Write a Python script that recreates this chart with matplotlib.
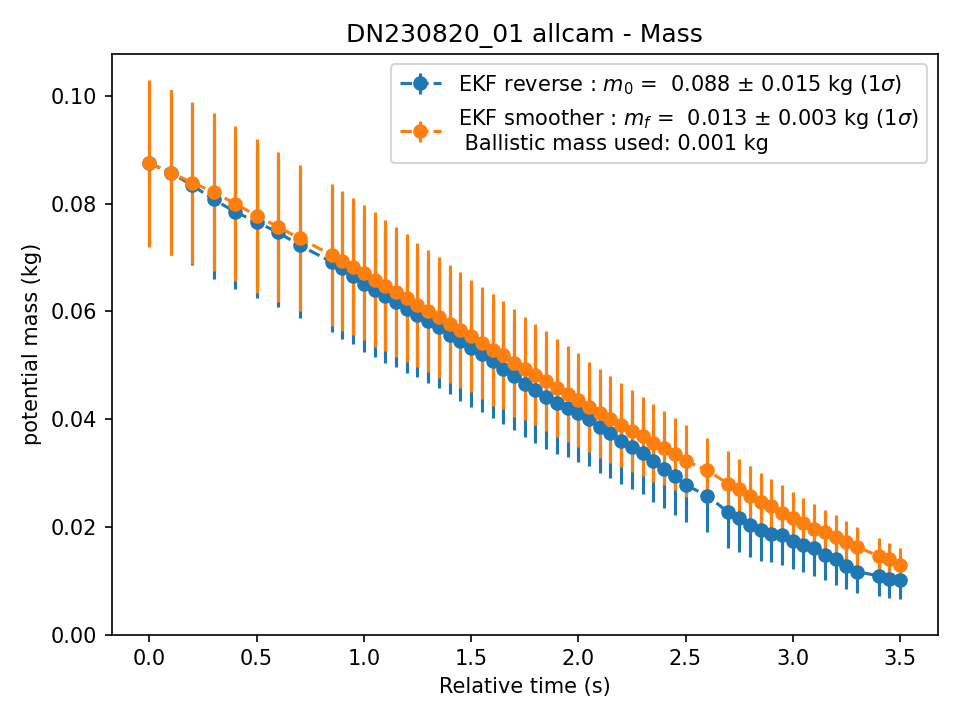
import numpy as np
import matplotlib
matplotlib.use("Agg")
import matplotlib.pyplot as plt

# relative time of each state (s)
t = [0.0, 0.1, 0.2, 0.3, 0.4, 0.5, 0.6, 0.7,
     0.85, 0.9, 0.95, 1.0, 1.05, 1.1, 1.15, 1.2, 1.25, 1.3, 1.35, 1.4,
     1.45, 1.5, 1.55, 1.6, 1.65, 1.7, 1.75, 1.8, 1.85, 1.9, 1.95, 2.0,
     2.05, 2.1, 2.15, 2.2, 2.25, 2.3, 2.35, 2.4, 2.45, 2.5,
     2.6, 2.7, 2.75, 2.8, 2.85, 2.9, 2.95, 3.0, 3.05, 3.1, 3.15, 3.2,
     3.25, 3.3, 3.4, 3.45, 3.5]

# EKF reverse mass and 1 sigma
m_rev = [0.0875, 0.0858, 0.0834, 0.0808, 0.0785, 0.0766, 0.0747, 0.0723,
         0.0692, 0.0680, 0.0665, 0.0651, 0.0639, 0.0628, 0.0617, 0.0604,
         0.0594, 0.0583, 0.0572, 0.0557, 0.0545, 0.0532, 0.0521, 0.0508,
         0.0494, 0.0481, 0.0466, 0.0454, 0.0442, 0.0430, 0.0421, 0.0411,
         0.0400, 0.0386, 0.0375, 0.0360, 0.0349, 0.0337, 0.0322, 0.0307,
         0.0294, 0.0278, 0.0258, 0.0227, 0.0216, 0.0204, 0.0194, 0.0186,
         0.0185, 0.0174, 0.0166, 0.0160, 0.0147, 0.0141, 0.0127, 0.0117,
         0.0109, 0.0104, 0.0101]
s_rev = [0.0150, 0.0153, 0.0148, 0.0147, 0.0143, 0.0141, 0.0139, 0.0136,
         0.0131, 0.0132, 0.0126, 0.0126, 0.0123, 0.0124, 0.0120, 0.0118,
         0.0116, 0.0116, 0.0114, 0.0110, 0.0111, 0.0109, 0.0107, 0.0105,
         0.0103, 0.0101, 0.0099, 0.0098, 0.0097, 0.0094, 0.0091, 0.0090,
         0.0087, 0.0085, 0.0084, 0.0080, 0.0079, 0.0076, 0.0075, 0.0072,
         0.0072, 0.0068, 0.0067, 0.0066, 0.0062, 0.0060, 0.0057, 0.0052,
         0.0055, 0.0052, 0.0050, 0.0051, 0.0046, 0.0048, 0.0042, 0.0040,
         0.0038, 0.0036, 0.0035]

# EKF smoother mass and 1 sigma
m_smo = [0.0875, 0.0858, 0.0839, 0.0822, 0.0800, 0.0778, 0.0757, 0.0736,
         0.0705, 0.0693, 0.0683, 0.0672, 0.0659, 0.0648, 0.0636, 0.0625,
         0.0612, 0.0601, 0.0589, 0.0577, 0.0566, 0.0555, 0.0541, 0.0529,
         0.0519, 0.0505, 0.0494, 0.0483, 0.0471, 0.0458, 0.0447, 0.0436,
         0.0423, 0.0411, 0.0400, 0.0390, 0.0378, 0.0368, 0.0356, 0.0347,
         0.0335, 0.0323, 0.0305, 0.0280, 0.0270, 0.0258, 0.0247, 0.0238,
         0.0225, 0.0217, 0.0207, 0.0197, 0.0191, 0.0182, 0.0172, 0.0163,
         0.0146, 0.0140, 0.0130]
s_smo = [0.0155, 0.0154, 0.0150, 0.0146, 0.0144, 0.0143, 0.0139, 0.0136,
         0.0132, 0.0130, 0.0127, 0.0125, 0.0125, 0.0122, 0.0120, 0.0118,
         0.0116, 0.0114, 0.0113, 0.0110, 0.0108, 0.0104, 0.0104, 0.0104,
         0.0100, 0.0100, 0.0095, 0.0094, 0.0093, 0.0091, 0.0089, 0.0087,
         0.0084, 0.0083, 0.0081, 0.0078, 0.0076, 0.0073, 0.0072, 0.0069,
         0.0067, 0.0067, 0.0060, 0.0061, 0.0057, 0.0056, 0.0054, 0.0051,
         0.0052, 0.0048, 0.0046, 0.0045, 0.0041, 0.0040, 0.0039, 0.0036,
         0.0034, 0.0031, 0.0030]

fig, ax = plt.subplots(figsize=(6.4, 4.8), dpi=150)
ax.errorbar(t, m_rev, yerr=s_rev, fmt='o--',
            label=r"EKF reverse : $m_0$ =  0.088 $\pm$ 0.015 kg (1$\sigma$)")
ax.errorbar(t, m_smo, yerr=s_smo, fmt='o--',
            label="EKF smoother : $m_f$ =  0.013 $\\pm$ 0.003 kg (1$\\sigma$)"
                  "\n Ballistic mass used: 0.001 kg")
ax.set_ylim(bottom=0)
ax.set_xlabel("Relative time (s)")
ax.set_ylabel("potential mass (kg)")
ax.set_title("DN230820_01 allcam - Mass")
ax.legend(loc="upper right")
fig.tight_layout()
fig.savefig("out.png")
